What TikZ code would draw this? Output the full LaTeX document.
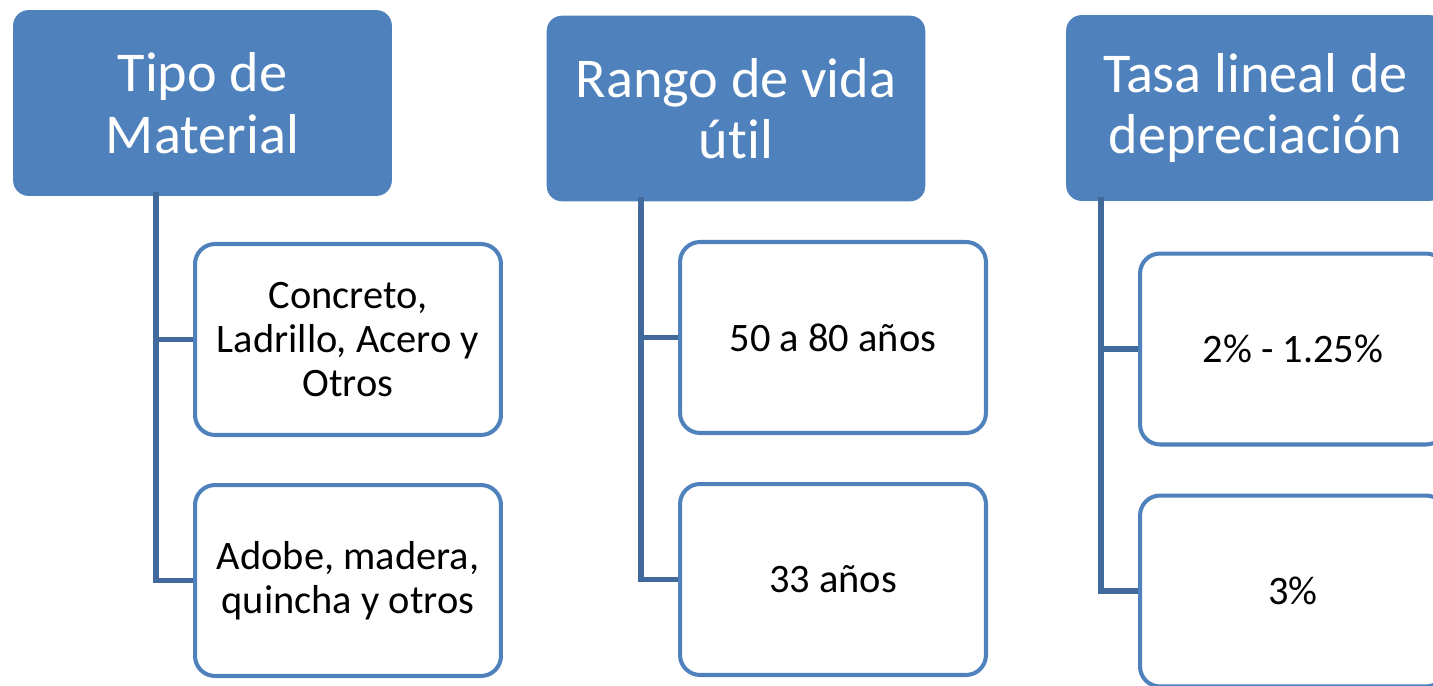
\documentclass[tikz,border=0pt]{standalone}
\usepackage{fontspec}
\setmainfont[Ligatures=NoCommon]{Carlito}
\usetikzlibrary{calc}
\definecolor{hdrblue}{HTML}{4F81BD}
\definecolor{trunkblue}{HTML}{41699C}

\begin{document}
\begin{tikzpicture}[x=0.02cm, y=-0.02cm,
    header/.style={fill=hdrblue, draw=hdrblue, rounded corners=0.3cm, minimum width=7.56cm, minimum height=3.7cm, text=white, align=center, inner sep=0pt, font=\fontsize{32}{35}\selectfont},
    leaf/.style={draw=hdrblue, line width=2.3pt, fill=white, rounded corners=0.4cm, minimum width=6.12cm, minimum height=3.82cm, align=center, inner sep=0pt, font=\fontsize{23}{25}\selectfont},
    trunk/.style={draw=trunkblue, line width=2.9pt}]
    \clip (0,0) rectangle (1433,686);

    % column headers
    \node (tipo) [header] at (202.5,103) {Tipo de\\Material};
    \node (rango) [header] at (736,108.5) {Rango de vida\\útil};
    \node (tasa) [header] at (1255.5,108) {Tasa lineal de\\depreciación};

    % leaves
    \node (mat1) [leaf] at (348,339.5) {Concreto,\\Ladrillo, Acero y\\Otros};
    \node (mat2) [leaf] at (348,580.5) {Adobe, madera,\\quincha y otros};
    \node (vida1) [leaf] at (833,337.5) {50 a 80 años};
    \node (vida2) [leaf] at (833,579.5) {33 años};
    \node (dep1) [leaf] at (1293,349) {2\% - 1.25\%};
    \node (dep2) [leaf] at (1293,591) {3\%};

    % trunks
    \foreach \h/\a/\b in {tipo/mat1/mat2, rango/vida1/vida2, tasa/dep1/dep2} {
        \coordinate (top-\h) at ($(\a.west |- \h.south)+(-37,-4)$);
        \draw[trunk] (top-\h) |- (\a.west);
        \draw[trunk] (top-\h) |- (\b.west);
    }
\end{tikzpicture}
\end{document}
